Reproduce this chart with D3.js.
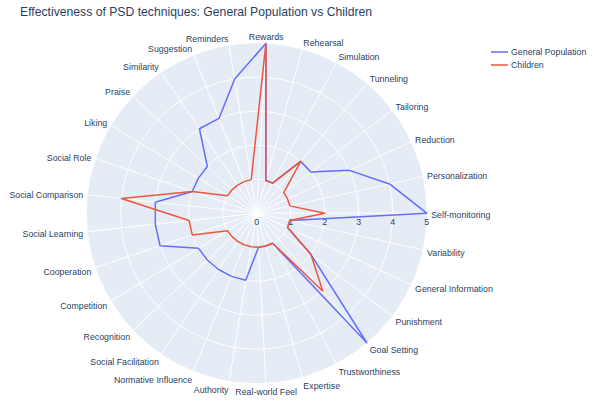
<!DOCTYPE html>
<html>
<head>
<meta charset="utf-8">
<script src="https://cdn.jsdelivr.net/npm/d3@7"></script>
<style>
  html, body { margin: 0; padding: 0; background: #fff; }
  svg text { font-family: "Liberation Sans", Arial, sans-serif; }
</style>
</head>
<body>
<svg id="chart" width="597" height="419"></svg>
<script>
// Categories, counter-clockwise starting at due East
const categories = ["Self-monitoring","Personalization","Reduction","Tailoring","Tunneling","Simulation","Rehearsal","Rewards","Reminders","Suggestion","Similarity","Praise","Liking","Social Role","Social Comparison","Social Learning","Cooperation","Competition","Recognition","Social Facilitation","Normative Influence","Authority","Real-world Feel","Expertise","Trustworthiness","Goal Setting","Punishment","General Information","Variability"];
const generalPopulation = [5,4,3,2,2,1,1,5,4,3,3,2,2,2,3,3,3,2,2,2,2,2,1,1,1,5,2,1,1];
const children = [2,1,1,1,2,1,1,5,1,1,1,1,1,2,4,2,2,1,1,1,1,1,1,1,1,3,2,1,1];
const radialTicks = [0,1,2,3,4,5];
const seriesNames = ["General Population", "Children"];
const title = "Effectiveness of PSD techniques: General Population vs Children";

const svg = d3.select("#chart");
const cx = 256.7, cy = 213.2, R = 170;
const fontColor = "#2a3f5f";

const r = d3.scaleLinear().domain([0, 5]).range([0, R]);
// math angle (ccw from east) by index
const theta = d3.scaleLinear().domain([0, categories.length]).range([0, 2 * Math.PI]);
const d3Angle = i => Math.PI / 2 - theta(i); // d3 radial: 0 at north, clockwise

const g = svg.append("g").attr("transform", `translate(${cx},${cy})`);

// background disc
g.append("circle").attr("r", R).attr("fill", "#E5ECF6");

// radial grid circles
g.selectAll("circle.grid").data(radialTicks.filter(t => t > 0 && t < 5)).join("circle")
  .attr("class", "grid").attr("r", d => r(d))
  .attr("fill", "none").attr("stroke", "#fff").attr("stroke-width", 1);

// angular spokes
g.selectAll("line.spoke").data(categories).join("line")
  .attr("class", "spoke")
  .attr("x1", 0).attr("y1", 0)
  .attr("x2", (d, i) => R * Math.cos(theta(i)))
  .attr("y2", (d, i) => -R * Math.sin(theta(i)))
  .attr("stroke", "#fff").attr("stroke-width", 1);

// radial tick labels
g.selectAll("text.rtick").data(radialTicks).join("text")
  .attr("class", "rtick")
  .attr("x", d => r(d)).attr("y", 9)
  .attr("text-anchor", "middle").attr("dominant-baseline", "central")
  .attr("font-size", 8.8).attr("fill", fontColor)
  .text(d => d);

// angular labels
const pad = 4.5;
g.selectAll("text.alabel").data(categories).join("text")
  .attr("class", "alabel")
  .each(function (d, i) {
    const t = theta(i), c = Math.cos(t), s = Math.sin(t);
    const x = (R + pad) * c, y = -(R + pad) * s - s * 3.5 + 1.5;
    d3.select(this).attr("x", x).attr("y", y)
      .attr("text-anchor", Math.abs(c) < 0.1 ? "middle" : (c > 0 ? "start" : "end"));
  })
  .attr("dominant-baseline", "central")
  .attr("font-size", 8.8).attr("fill", fontColor)
  .text(d => d);

// series
const line = d3.lineRadial()
  .angle((d, i) => d3Angle(i))
  .radius(d => r(d))
  .curve(d3.curveLinearClosed);

const colors = ["#636EFA", "#EF553B"];
[generalPopulation, children].forEach((vals, k) => {
  g.append("path").datum(vals)
    .attr("d", line)
    .attr("fill", "none")
    .attr("stroke", colors[k]).attr("stroke-width", 1.5)
    .attr("stroke-linejoin", "round");
});

// title
svg.append("text").attr("x", 20).attr("y", 16)
  .attr("font-size", 12.2).attr("fill", fontColor)
  .text(title);

// legend
const leg = svg.append("g").attr("transform", "translate(491,52)");
seriesNames.forEach((n, k) => {
  const row = leg.append("g").attr("transform", `translate(0,${k * 13})`);
  row.append("line").attr("x1", 0).attr("x2", 17).attr("y1", 0).attr("y2", 0)
    .attr("stroke", colors[k]).attr("stroke-width", 1.5);
  row.append("text").attr("x", 20).attr("y", 0)
    .attr("dominant-baseline", "central")
    .attr("font-size", 8.8).attr("fill", fontColor).text(n);
});
</script>
</body>
</html>
